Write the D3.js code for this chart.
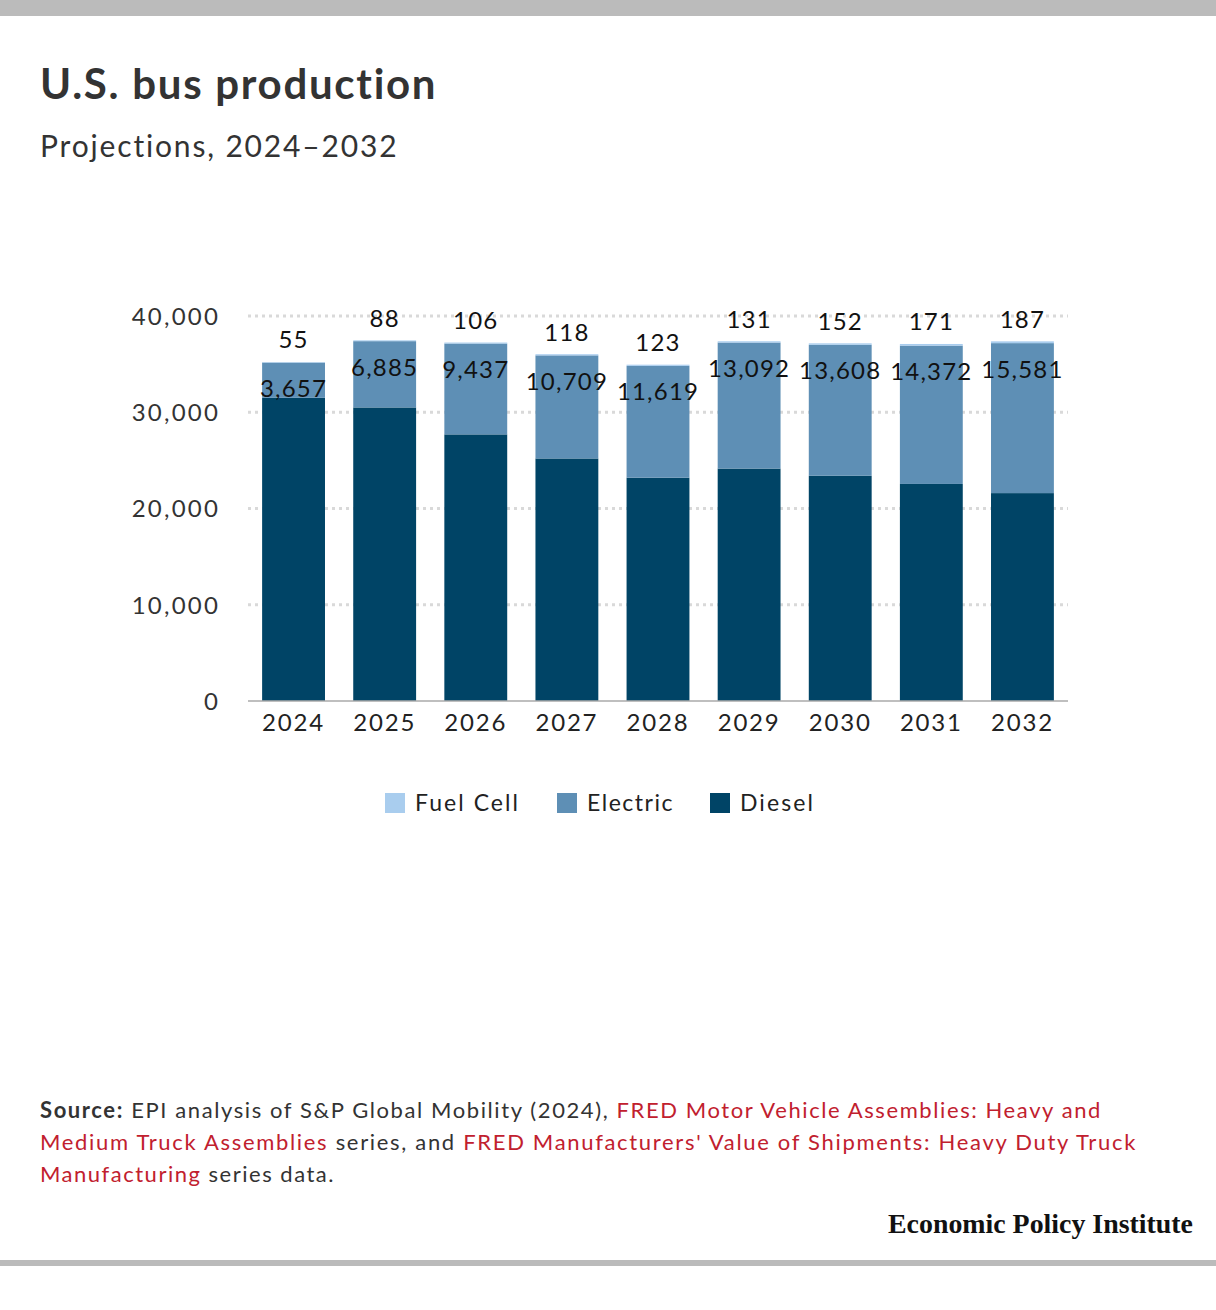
<!DOCTYPE html>
<html>
<head>
<meta charset="utf-8">
<script src="https://cdn.jsdelivr.net/npm/d3@7/dist/d3.min.js"></script>
<style>
  html, body { margin: 0; padding: 0; background: #fff; }
  svg { display: block; }
</style>
</head>
<body>
<svg id="chart" width="1216" height="1310"></svg>
<script>
// ---- Data ----
const years = ["2024","2025","2026","2027","2028","2029","2030","2031","2032"];
const diesel = [31500, 30500, 27700, 25200, 23200, 24150, 23400, 22550, 21600];
const electric = [3657, 6885, 9437, 10709, 11619, 13092, 13608, 14372, 15581];
const fuelCell = [55, 88, 106, 118, 123, 131, 152, 171, 187];
const yTicks = [0, 10000, 20000, 30000, 40000];
const seriesNames = ["Fuel Cell", "Electric", "Diesel"];
const seriesColors = ["#a9cdee", "#5e8fb5", "#004466"];

const FONT = "Lato, 'Open Sans', sans-serif";
const svg = d3.select("#chart");

// spread text to a target width via letter-spacing
function fitWidth(sel, target) {
  const node = sel.node();
  const w = node.getComputedTextLength();
  const n = node.textContent.length;
  if (n > 1 && w < target) sel.attr("letter-spacing", ((target - w) / n).toFixed(3));
  return sel;
}

// frame bars
svg.append("rect").attr("x", 0).attr("y", 0).attr("width", 1216).attr("height", 16).attr("fill", "#bbbbbb");
svg.append("rect").attr("x", 0).attr("y", 1260).attr("width", 1216).attr("height", 6).attr("fill", "#bbbbbb");

// title
fitWidth(svg.append("text").attr("x", 40).attr("y", 99)
  .attr("font-family", FONT).attr("font-weight", 700).attr("font-size", 42)
  .attr("fill", "#333").text("U.S. bus production"), 398);
fitWidth(svg.append("text").attr("x", 40).attr("y", 157)
  .attr("font-family", FONT).attr("font-size", 30)
  .attr("fill", "#333").text("Projections, 2024\u20132032"), 359);

// scales
const x = d3.scaleBand().domain(years).range([248, 1068]).paddingInner(0.31).paddingOuter(0.155);
const y = d3.scaleLinear().domain([0, 40000]).range([701, 316]);

// gridlines
const g = svg.append("g");
g.selectAll("line.grid").data(yTicks.filter(d => d > 0)).join("line")
  .attr("x1", 248).attr("x2", 1068)
  .attr("y1", d => y(d)).attr("y2", d => y(d))
  .attr("stroke", "#d9d9d9").attr("stroke-width", 3).attr("stroke-dasharray", "3,4");

// y axis labels
const yAxis = d3.axisLeft(y).tickValues(yTicks).tickFormat(d3.format(",")).tickSize(0).tickPadding(0);
const ya = svg.append("g").attr("transform", "translate(220,0)").call(yAxis);
ya.select(".domain").remove();
ya.selectAll("text").attr("font-family", FONT).attr("font-size", 24).attr("fill", "#333")
  .attr("letter-spacing", 2.2).attr("dy", "0.35em");

// stacked data
const rows = years.map((yr, i) => ({ year: yr, Diesel: diesel[i], Electric: electric[i], "Fuel Cell": fuelCell[i] }));
const stack = d3.stack().keys(["Diesel", "Electric", "Fuel Cell"]);
const stacked = stack(rows);
const colorOf = { "Fuel Cell": seriesColors[0], "Electric": seriesColors[1], "Diesel": seriesColors[2] };

svg.append("g").selectAll("g").data(stacked).join("g")
  .attr("fill", d => colorOf[d.key])
  .selectAll("rect").data(d => d).join("rect")
  .attr("x", d => x(d.data.year))
  .attr("width", x.bandwidth())
  .attr("y", d => y(d[1]))
  .attr("height", d => y(d[0]) - y(d[1]));

// baseline
svg.append("line").attr("x1", 248).attr("x2", 1068).attr("y1", y(0)).attr("y2", y(0))
  .attr("stroke", "#aaa").attr("stroke-width", 1.5);

// x axis labels
const xAxis = d3.axisBottom(x).tickSize(0).tickPadding(0);
const xa = svg.append("g").attr("transform", `translate(0,${y(0)})`).call(xAxis);
xa.select(".domain").remove();
xa.selectAll("text").attr("font-family", FONT).attr("font-size", 24).attr("fill", "#222")
  .attr("letter-spacing", 1.8).attr("y", 30).attr("dy", 0);

// value labels
const fmt = d3.format(",");
const lbl = svg.append("g").attr("font-family", FONT).attr("font-size", 24).attr("fill", "#111")
  .attr("text-anchor", "middle").attr("letter-spacing", 1.2);
const elecLayer = stacked[1];
const fuelLayer = stacked[2];
lbl.selectAll("text.el").data(elecLayer).join("text").attr("class", "el")
  .attr("x", d => x(d.data.year) + x.bandwidth() / 2)
  .attr("y", d => y(d[1]) + 26).attr("dy", "0.35em")
  .text(d => fmt(d.data.Electric));
lbl.selectAll("text.fc").data(fuelLayer).join("text").attr("class", "fc")
  .attr("x", d => x(d.data.year) + x.bandwidth() / 2)
  .attr("y", d => y(d[1]) - 22).attr("dy", "0.35em")
  .text(d => fmt(d.data["Fuel Cell"]));

// legend
const legendX = [385, 557, 710];
const legendTextW = [105, 87, 75];
const lg = svg.append("g");
seriesNames.forEach((name, i) => {
  lg.append("rect").attr("x", legendX[i]).attr("y", 793).attr("width", 20).attr("height", 20)
    .attr("fill", seriesColors[i]);
  fitWidth(lg.append("text").attr("x", legendX[i] + 30).attr("y", 803).attr("dy", "0.35em")
    .attr("font-family", FONT).attr("font-size", 23).attr("fill", "#222")
    .text(name), legendTextW[i]);
});

// source
const red = "#c1202e";
const srcLines = [
  [{t: "Source:", b: true}, {t: " EPI analysis of S&P Global Mobility (2024), "}, {t: "FRED Motor Vehicle Assemblies: Heavy and", r: true}],
  [{t: "Medium Truck Assemblies", r: true}, {t: " series, and "}, {t: "FRED Manufacturers' Value of Shipments: Heavy Duty Truck", r: true}],
  [{t: "Manufacturing", r: true}, {t: " series data."}]
];
const srcWidths = [1062, 1097, 295];
srcLines.forEach((parts, i) => {
  const t = svg.append("text").attr("x", 40).attr("y", 1118 + i * 32)
    .attr("font-family", FONT).attr("font-size", 22).attr("fill", "#333").attr("xml:space", "preserve");
  parts.forEach(p => {
    t.append("tspan").attr("font-weight", p.b ? 700 : 400).attr("fill", p.r ? red : "#333").text(p.t);
  });
  fitWidth(t, srcWidths[i]);
});

// EPI logo text
svg.append("text").attr("x", 1193).attr("y", 1233).attr("text-anchor", "end")
  .attr("font-family", "'Liberation Serif', 'DejaVu Serif', serif").attr("font-weight", 700)
  .attr("font-size", 27).attr("fill", "#111").attr("textLength", 305).attr("lengthAdjust", "spacingAndGlyphs")
  .text("Economic Policy Institute");
</script>
</body>
</html>
